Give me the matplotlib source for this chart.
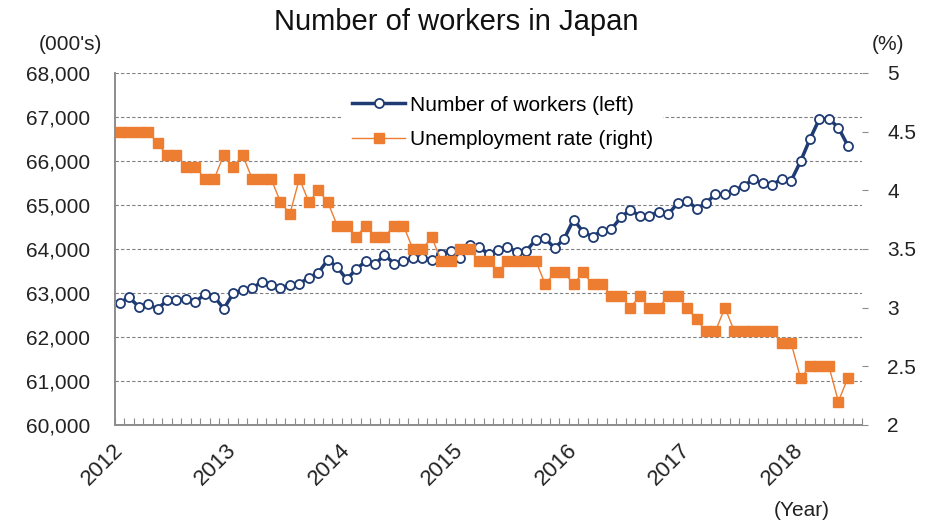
import matplotlib.pyplot as plt
from matplotlib.ticker import FuncFormatter, FixedLocator

plt.rcParams['font.family'] = ['Liberation Sans', 'DejaVu Sans']

# monthly, Jan 2012 - Jun 2018
years = ['2012', '2013', '2014', '2015', '2016', '2017', '2018']

workers = [
    62780, 62900, 62690, 62740, 62640, 62830, 62840, 62860, 62790, 62980, 62920, 62640,
    62990, 63070, 63110, 63250, 63190, 63120, 63180, 63210, 63350, 63460, 63750, 63590,
    63310, 63540, 63720, 63650, 63870, 63670, 63720, 63800, 63800, 63740, 63890, 63960,
    63800, 64100, 64050, 63880, 63970, 64050, 63930, 63960, 64210, 64240, 64020, 64230,
    64670, 64390, 64280, 64420, 64450, 64720, 64890, 64750, 64750, 64850, 64790, 65040,
    65100, 64920, 65040, 65250, 65240, 65330, 65440, 65580, 65490, 65460, 65590, 65550,
    65990, 66500, 66960, 66960, 66760, 66350,
]

unemployment = [
    4.5, 4.5, 4.5, 4.5, 4.4, 4.3, 4.3, 4.2, 4.2, 4.1, 4.1, 4.3,
    4.2, 4.3, 4.1, 4.1, 4.1, 3.9, 3.8, 4.1, 3.9, 4.0, 3.9, 3.7,
    3.7, 3.6, 3.7, 3.6, 3.6, 3.7, 3.7, 3.5, 3.5, 3.6, 3.4, 3.4,
    3.5, 3.5, 3.4, 3.4, 3.3, 3.4, 3.4, 3.4, 3.4, 3.2, 3.3, 3.3,
    3.2, 3.3, 3.2, 3.2, 3.1, 3.1, 3.0, 3.1, 3.0, 3.0, 3.1, 3.1,
    3.0, 2.9, 2.8, 2.8, 3.0, 2.8, 2.8, 2.8, 2.8, 2.8, 2.7, 2.7,
    2.4, 2.5, 2.5, 2.5, 2.2, 2.4,
]

navy = '#1f3b73'
orange = '#ed7d31'
gray = '#8c8c8c'
txt = '#222222'
fs = 15

n = len(workers)
x = list(range(n))

fig = plt.figure(figsize=(9.32, 5.23), dpi=100)
ax = fig.add_axes([115 / 932, 1 - 425 / 523, 747 / 932, 352 / 523])
ax2 = ax.twinx()

l1, = ax.plot(x, workers, color=navy, lw=2.5, marker='o', ms=6.5, mfc='white',
              mec=navy, mew=1.3, label='Number of workers (left)')
l2, = ax2.plot(x, unemployment, color=orange, lw=1.0, marker='s', ms=6.5,
               mfc=orange, mec=orange, label='Unemployment rate (right)')

ax.set_xlim(-0.5, n + 0.5)
ax.set_ylim(60000, 68000)
ax2.set_ylim(2, 5)

ax.set_yticks(range(60000, 68001, 1000))
ax.yaxis.set_major_formatter(FuncFormatter(lambda v, p: f'{v:,.0f}'))
ax2.set_yticks([2, 2.5, 3, 3.5, 4, 4.5, 5])
ax2.yaxis.set_major_formatter(FuncFormatter(lambda v, p: f'{v:g}'))

ax.set_xticks([12 * i for i in range(len(years))])
ax.set_xticklabels(years, rotation=45, ha='right', va='center', rotation_mode='anchor')
ax.xaxis.set_minor_locator(FixedLocator([k - 0.5 for k in range(n + 2)]))
ax.tick_params(axis='x', which='major', length=0, pad=16, labelsize=16, labelcolor=txt)
ax.tick_params(axis='x', which='minor', direction='in', length=5, color=gray, width=0.8)
ax.tick_params(axis='y', length=0, pad=18, labelsize=fs, labelcolor=txt)
ax2.tick_params(axis='y', length=4, color=gray, width=0.8, pad=14, labelsize=fs,
                labelcolor=txt)

ax.grid(axis='y', ls=(0, (3, 2)), color='#808080', lw=0.8)
ax.set_axisbelow(True)
for a in (ax, ax2):
    a.spines['top'].set_visible(False)
    a.spines['right'].set_visible(False)
    a.spines['left'].set_color(gray)
    a.spines['bottom'].set_color(gray)
    a.spines['left'].set_linewidth(1.2)
    a.spines['bottom'].set_linewidth(1.2)

leg = ax2.legend([l1, l2], [l1.get_label(), l2.get_label()], loc='upper left',
                 bbox_to_anchor=(0.29, 0.995), fontsize=fs, frameon=True,
                 facecolor='white', edgecolor='none', framealpha=1,
                 handlelength=2.5, handletextpad=0.25, labelspacing=0.75,
                 borderpad=0.5, fancybox=False)
leg.set_zorder(10)

fig.text(0.49, 0.957, 'Number of workers in Japan', ha='center', va='center',
         fontsize=21, color='#111111')
fig.text(70 / 932, 1 - 45 / 523, "(000's)", ha='center', va='center', fontsize=fs,
         color=txt)
fig.text(888 / 932, 1 - 45 / 523, '(%)', ha='center', va='center', fontsize=fs,
         color=txt)
fig.text(802 / 932, 1 - 510 / 523, '(Year)', ha='center', va='center', fontsize=fs,
         color=txt)

fig.savefig('out.png', dpi=100)
